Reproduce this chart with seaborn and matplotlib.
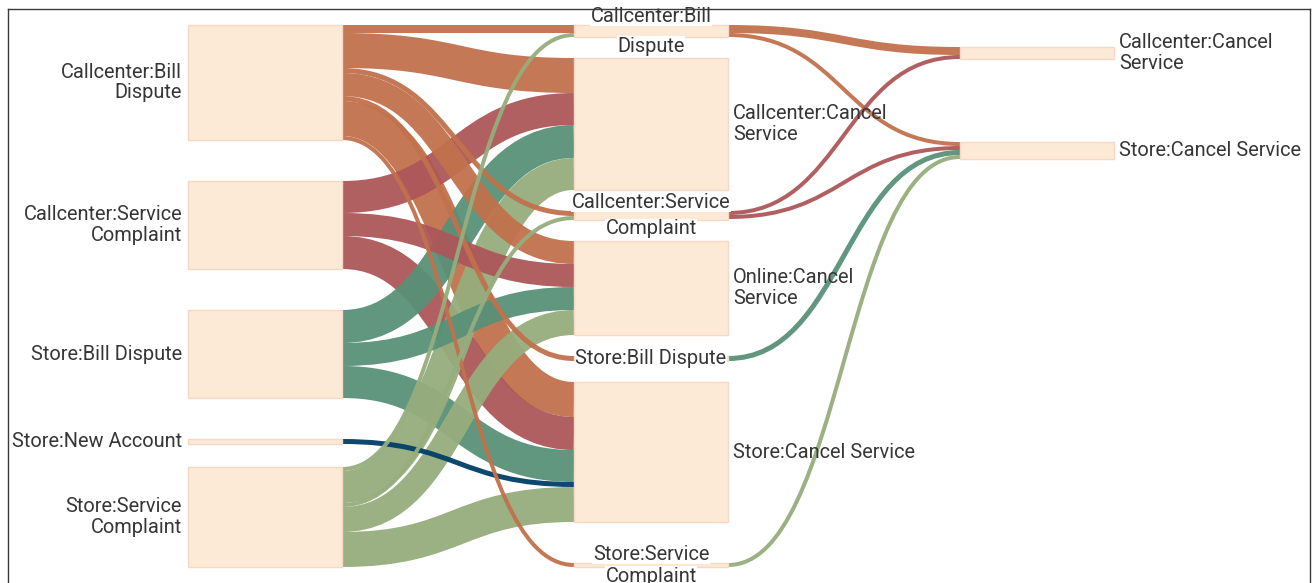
import textwrap

import seaborn as sns
import matplotlib.pyplot as plt
from matplotlib.path import Path
from matplotlib.patches import PathPatch, Rectangle

# customer journeys: step 1 -> step 2 -> step 3
step1_nodes = ["Callcenter:Bill Dispute", "Callcenter:Service Complaint",
               "Store:Bill Dispute", "Store:New Account", "Store:Service Complaint"]
step2_nodes = ["Callcenter:Bill Dispute", "Callcenter:Cancel Service",
               "Callcenter:Service Complaint", "Online:Cancel Service",
               "Store:Bill Dispute", "Store:Cancel Service", "Store:Service Complaint"]
step3_nodes = ["Callcenter:Cancel Service", "Store:Cancel Service"]

flow12_source = (["Callcenter:Bill Dispute"] * 7 + ["Callcenter:Service Complaint"] * 3
                 + ["Store:Bill Dispute"] * 3 + ["Store:New Account"]
                 + ["Store:Service Complaint"] * 5)
flow12_target = ["Callcenter:Bill Dispute", "Callcenter:Cancel Service", "Callcenter:Service Complaint",
                 "Online:Cancel Service", "Store:Bill Dispute", "Store:Cancel Service",
                 "Store:Service Complaint",
                 "Callcenter:Cancel Service", "Online:Cancel Service", "Store:Cancel Service",
                 "Callcenter:Cancel Service", "Online:Cancel Service", "Store:Cancel Service",
                 "Store:Cancel Service",
                 "Callcenter:Bill Dispute", "Callcenter:Cancel Service", "Callcenter:Service Complaint",
                 "Online:Cancel Service", "Store:Cancel Service"]
flow12_value = [8, 35, 5, 23, 5, 35, 4,
                32, 23, 33,
                33, 23, 32,
                5,
                4, 32, 4, 25, 35]

flow23_source = ["Callcenter:Bill Dispute", "Callcenter:Bill Dispute",
                 "Callcenter:Service Complaint", "Callcenter:Service Complaint",
                 "Store:Bill Dispute", "Store:Service Complaint"]
flow23_target = ["Callcenter:Cancel Service", "Store:Cancel Service",
                 "Callcenter:Cancel Service", "Store:Cancel Service",
                 "Store:Cancel Service", "Store:Cancel Service"]
flow23_value = [8, 4, 4, 4, 5, 4]

journey_colors = {
    "Callcenter:Bill Dispute": "#c1714c",
    "Callcenter:Service Complaint": "#ad575a",
    "Store:Bill Dispute": "#589178",
    "Store:New Account": "#003f66",
    "Store:Service Complaint": "#96ad7d",
}

W, H = 1316, 583
TOP, BOTTOM = 25, 567
# per step: offset of first node below TOP, gap between nodes, last node sits on BOTTOM
STEP_OFFSET = [0, 0, 22]
STEP_GAP = [41, 21, 83]
STEP_PIN_LAST = [True, True, False]
FIRST_CENTER, STEP, NODE_W = 265, 386, 154


def sankey_layout(columns, flows):
    # 1 value unit = 1 px on the y axis
    cols = [[{"name": n, "layer": c, "out": [], "in": []} for n in names]
            for c, names in enumerate(columns)]
    index = [{nd["name"]: nd for nd in col} for col in cols]
    links = []
    for c, (src, tgt, val) in enumerate(flows):
        for s, t, v in zip(src, tgt, val):
            lk = {"source": index[c][s], "target": index[c + 1][t], "value": v, "width": v}
            lk["source"]["out"].append(lk)
            lk["target"]["in"].append(lk)
            links.append(lk)

    for c, col in enumerate(cols):
        y = TOP + STEP_OFFSET[c]
        for nd in col:
            nd["value"] = max(sum(l["value"] for l in nd["out"]),
                              sum(l["value"] for l in nd["in"]))
            nd["y0"] = y
            nd["y1"] = y + nd["value"]
            y = nd["y1"] + STEP_GAP[c]
        if STEP_PIN_LAST[c]:
            col[-1]["y1"] = BOTTOM
            col[-1]["y0"] = BOTTOM - col[-1]["value"]

    for col in cols:
        for nd in col:
            nd["out"].sort(key=lambda l: l["target"]["y0"])
            nd["in"].sort(key=lambda l: l["source"]["y0"])
            y = nd["y0"]
            for l in nd["out"]:
                l["y0"] = y + l["width"] / 2
                y += l["width"]
            y = nd["y0"]
            for l in nd["in"]:
                l["y1"] = y + l["width"] / 2
                y += l["width"]
    return cols, links


sns.set_theme(style="white")
plt.rcParams["font.family"] = ["Roboto", "DejaVu Sans"]

cols, links = sankey_layout(
    [step1_nodes, step2_nodes, step3_nodes],
    [(flow12_source, flow12_target, flow12_value),
     (flow23_source, flow23_target, flow23_value)])

fig = plt.figure(figsize=(W / 100, H / 100), dpi=100)
ax = fig.add_axes([7.5 / W, -30 / H, (1310 - 7.5) / W, (H - 9 + 30) / H])
ax.set_xlim(7.5, 1310)
ax.set_ylim(H + 30, 9)
ax.set_xticks([])
ax.set_yticks([])
for sp in ax.spines.values():
    sp.set_color("#3a3a3a")
    sp.set_linewidth(1.0)
    sp.set_zorder(10)


def node_x(layer):
    c = FIRST_CENTER + layer * STEP
    return c - NODE_W / 2, c + NODE_W / 2


# thick flows first so the thin ones stay visible on top
for l in sorted(links, key=lambda l: -l["width"]):
    xs = node_x(l["source"]["layer"])[1]
    xt = node_x(l["target"]["layer"])[0]
    xm = (xs + xt) / 2
    path = Path([(xs, l["y0"]), (xm, l["y0"]), (xm, l["y1"]), (xt, l["y1"])],
                [Path.MOVETO, Path.CURVE4, Path.CURVE4, Path.CURVE4])
    ax.add_patch(PathPatch(path, fill=False, lw=l["width"] * 0.72, capstyle="butt",
                           edgecolor=journey_colors[l["source"]["name"]], alpha=0.95, zorder=2))

last = len(cols) - 1
kw = dict(fontsize=14.4, color="#363636", va="center", linespacing=1.1, zorder=5)
white = dict(facecolor="white", edgecolor="none", pad=0.5)
for col in cols:
    for nd in col:
        x0, x1 = node_x(nd["layer"])
        ax.add_patch(Rectangle((x0, nd["y0"]), x1 - x0, nd["y1"] - nd["y0"],
                               facecolor="#fdead6", edgecolor="#f6d8c4", lw=1, zorder=3))
        lines = textwrap.wrap(nd["name"], 20)
        yc = (nd["y0"] + nd["y1"]) / 2
        if nd["layer"] == 0:
            ax.text(x0 - 6, yc, "\n".join(lines), ha="right", **kw)
        elif nd["layer"] == last or nd["y1"] - nd["y0"] >= 20:
            ax.text(x1 + 5, yc, "\n".join(lines), ha="left", **kw)
        elif len(lines) == 1:
            ax.text((x0 + x1) / 2, yc, lines[0], ha="center", bbox=white, **kw)
        else:
            # thin node: wrap the label around it
            ax.text((x0 + x1) / 2, nd["y0"] - 9, lines[0], ha="center", bbox=white, **kw)
            ax.text((x0 + x1) / 2, nd["y1"] + 9, lines[1], ha="center", bbox=white, **kw)

fig.savefig("out.png", dpi=100)
